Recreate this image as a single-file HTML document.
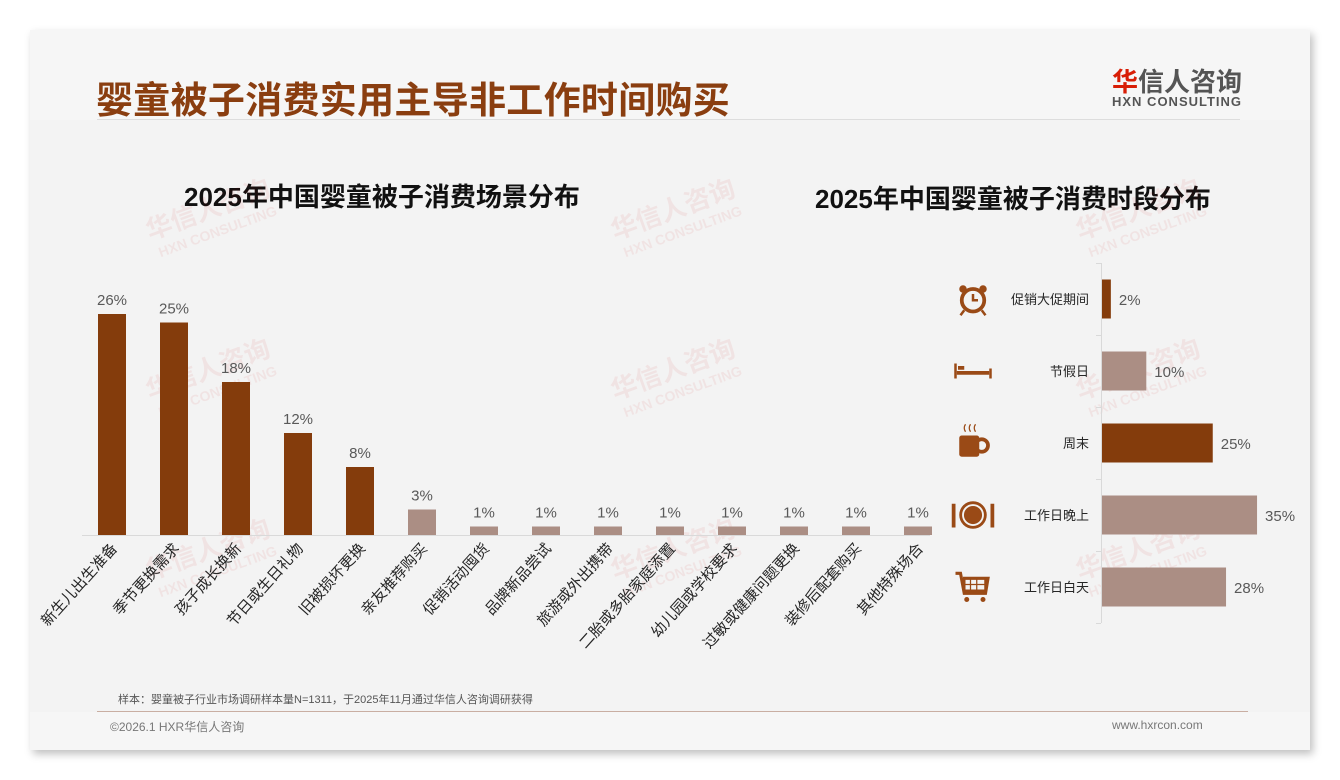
<!DOCTYPE html>
<html><head><meta charset="utf-8">
<style>
*{margin:0;padding:0;box-sizing:border-box}
body{width:1340px;height:780px;background:#fff;position:relative;overflow:hidden;font-family:"Liberation Sans","Noto Sans CJK SC",sans-serif}
#slide{position:absolute;left:30px;top:30px;width:1280px;height:720px;background:#f3f3f3;box-shadow:3px 4px 8px rgba(0,0,0,0.25)}
.abs{position:absolute;white-space:nowrap}
</style></head><body>
<div id="slide">
<div class="abs" style="left:0;top:0;width:1280px;height:90px;background:#f6f6f6"></div>
<div class="abs" style="left:66px;top:40px;font-size:37px;font-weight:bold;color:#8a3e10;letter-spacing:0.3px">婴童被子消费实用主导非工作时间购买</div>
<div class="abs" style="left:1082px;top:32px;font-size:26px;font-weight:bold;color:#555"><span style="color:#d81e06">华</span>信人咨询</div>
<div class="abs" style="left:1082px;top:64px;font-size:13px;font-weight:bold;color:#555;letter-spacing:1px">HXN CONSULTING</div>
<div class="abs" style="left:67px;top:89px;width:1143px;height:1px;background:#ddd"></div>
<div class="abs" style="left:154px;top:147px;font-size:26px;font-weight:bold;color:#111">2025年中国婴童被子消费场景分布</div>
<div class="abs" style="left:785px;top:149px;font-size:26px;font-weight:bold;color:#111">2025年中国婴童被子消费时段分布</div>
<div class="abs" style="left:88px;top:661px;font-size:11px;color:#555">样本：婴童被子行业市场调研样本量N=1311，于2025年11月通过华信人咨询调研获得</div>
<div class="abs" style="left:0;top:682px;width:1280px;height:38px;background:#f6f6f6"></div>
<div class="abs" style="left:67px;top:681px;width:1151px;height:1px;background:#c9aea2"></div>
<div class="abs" style="left:80px;top:688px;font-size:12px;color:#777">©2026.1 HXR华信人咨询</div>
<div class="abs" style="left:1082px;top:688px;font-size:12px;color:#777">www.hxrcon.com</div>
</div>
<svg id="chart" width="1340" height="780" style="position:absolute;left:0;top:0" font-family="Liberation Sans, Noto Sans CJK SC, sans-serif"></svg>
<script>
const leftCats=["新生儿出生准备","季节更换需求","孩子成长换新","节日或生日礼物","旧被损坏更换","亲友推荐购买","促销活动囤货","品牌新品尝试","旅游或外出携带","二胎或多胎家庭添置","幼儿园或学校要求","过敏或健康问题更换","装修后配套购买","其他特殊场合"];
const leftVals=[26,25,18,12,8,3,1,1,1,1,1,1,1,1];
const rightCats=["促销大促期间","节假日","周末","工作日晚上","工作日白天"];
const rightVals=[2,10,25,35,28];
const DARK="#843c0c",LIGHT="#ab8e84";
const svg=document.getElementById('chart');
const NS="http://www.w3.org/2000/svg";
function mk(t,a,p){const e=document.createElementNS(NS,t);for(const k in a)e.setAttribute(k,a[k]);(p||svg).appendChild(e);return e;}
[[150,240],[615,240],[1080,240],[150,400],[615,400],[1080,400],[150,580],[615,580],[1080,580]].forEach(p=>{
 const g=mk('g',{transform:`translate(${p[0]},${p[1]}) rotate(-20)`,opacity:0.06});
 
 
 const t1=mk('text',{x:0,y:0,'font-size':26,'font-weight':'bold',fill:'#c00'},g);t1.textContent='华信人咨询';
 const t2=mk('text',{x:4,y:20,'font-size':14,'font-weight':'bold',fill:'#c00'},g);t2.textContent='HXN CONSULTING';
});
const baseY=535,x0=81,step=62,bw=28,ppu=8.5;
const xL=i=>x0+step*(i+0.5), yL=v=>baseY-v*ppu;
const ax=mk('line',{x1:82,y1:baseY+0.5,x2:930,y2:baseY+0.5,stroke:'#d9d9d9'});


leftVals.forEach((v,i)=>{
 const r=mk('rect',{x:xL(i)-bw/2,y:yL(v),width:bw,height:baseY-yL(v),fill:v>=8?DARK:LIGHT});
 
 
 const t=mk('text',{x:xL(i),y:yL(v)-9,'text-anchor':'middle','font-size':15,fill:'#595959'});t.textContent=v+'%';
 
 
 const l=mk('text',{transform:`translate(${xL(i)+6},${baseY+14}) rotate(-48)`,'text-anchor':'end','font-size':15,fill:'#262626'});l.textContent=leftCats[i];
 
 
});
const axX=1101,top0=263,band=72,rbh=39,rppu=4.43;
const yR=i=>top0+band*(i+0.5);
const ra=mk('line',{x1:axX+0.5,y1:top0,x2:axX+0.5,y2:top0+band*5,stroke:'#d9d9d9'});


for(let i=0;i<=5;i++){mk('line',{x1:axX-5,y1:top0+band*i+0.5,x2:axX,y2:top0+band*i+0.5,stroke:'#d9d9d9'});}
const icons=[
 c=>`<circle cx="0" cy="1" r="9" fill="none" stroke="${c}" stroke-width="3"/><path d="M0 -4V1H4" stroke="${c}" stroke-width="2" fill="none"/><circle cx="-8" cy="-8" r="3" fill="${c}"/><circle cx="8" cy="-8" r="3" fill="${c}"/><path d="M-7 9l-3 4M7 9l3 4" stroke="${c}" stroke-width="2"/>`,
 c=>`<rect x="-15" y="-6" width="2" height="12" fill="${c}"/><rect x="13" y="-2" width="2" height="8" fill="${c}"/><rect x="-13" y="0" width="26" height="3" fill="${c}"/><rect x="-12" y="-4" width="5" height="3" fill="${c}"/>`,
 c=>`<rect x="-11" y="-6" width="16" height="17" rx="2" fill="${c}"/><circle cx="7" cy="2" r="5" fill="none" stroke="${c}" stroke-width="3"/><path d="M-6-9q-2-3 0-6M-2-9q-2-3 0-6M2-9q-2-3 0-6" stroke="${c}" fill="none"/>`,
 c=>`<circle cx="0" cy="0" r="11" fill="${c}"/><circle cx="0" cy="0" r="8" fill="none" stroke="#f3f3f3" stroke-width="1.5"/><rect x="-17" y="-9" width="3" height="19" fill="${c}"/><rect x="14" y="-9" width="3" height="19" fill="${c}"/>`,
 c=>`<path d="M-14 -11h4l3 16h17l2-12h-20" stroke="${c}" stroke-width="2.5" fill="none"/><rect x="-7" y="-7" width="17" height="10" fill="none" stroke="${c}" stroke-width="2"/><path d="M-2-7v10M3-7v10M-7-2h17" stroke="${c}"/><circle cx="-5" cy="10" r="2" fill="${c}"/><circle cx="8" cy="10" r="2" fill="${c}"/>`
];
rightVals.forEach((v,i)=>{
 const c=(i===0||i===2)?DARK:LIGHT;
 const r=mk('rect',{x:axX+1,y:yR(i)-rbh/2,width:v*rppu,height:rbh,fill:c});
 
 
 const t=mk('text',{x:axX+1+v*rppu+8,y:yR(i)+6,'font-size':15,fill:'#595959'});t.textContent=v+'%';
 
 
 const l=mk('text',{x:1089,y:yR(i)+5,'text-anchor':'end','font-size':13,fill:'#262626'});l.textContent=rightCats[i];
 
 
 const g=mk('g',{transform:`translate(973,${yR(i)}) scale(1.25)`});g.innerHTML=icons[i]('#9a4a16');
 
 
});
</script>
</body></html>
